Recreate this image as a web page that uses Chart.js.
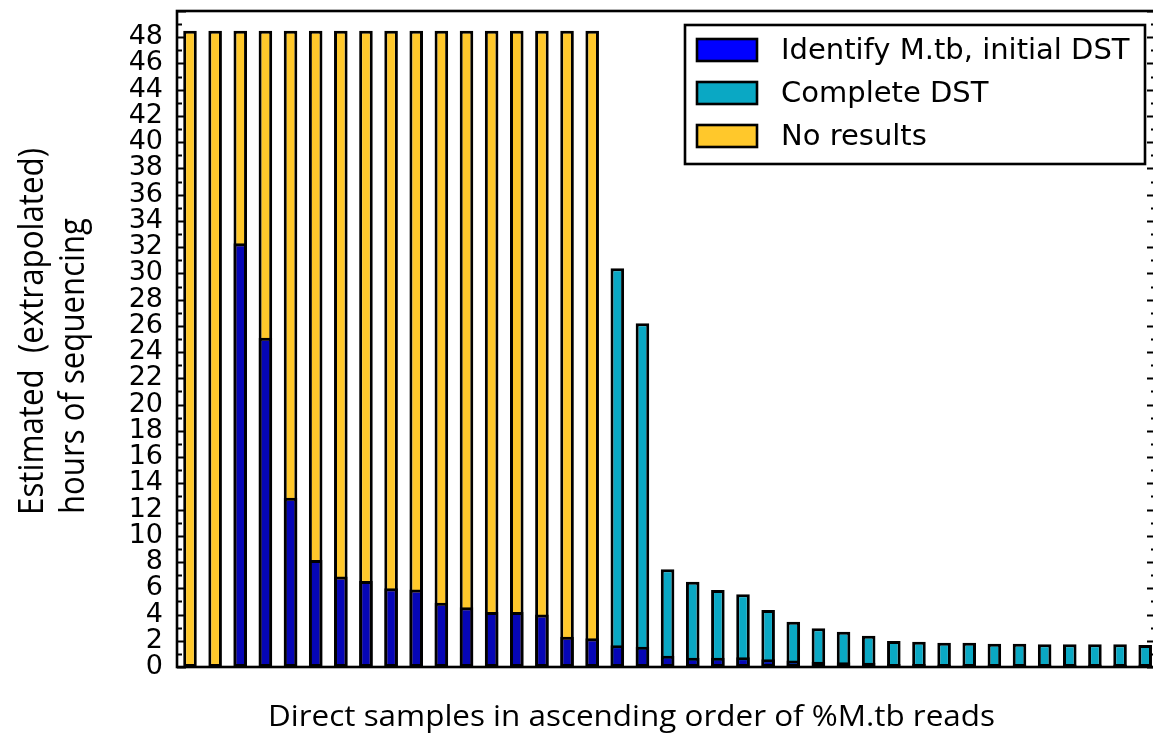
<!DOCTYPE html>
<html>
<head>
<meta charset="utf-8">
<script src="https://cdn.jsdelivr.net/npm/chart.js@4/dist/chart.umd.min.js"></script>
<style>
  html, body { margin: 0; padding: 0; background: #fff; overflow: hidden; }
  #wrap { position: relative; width: 1160px; height: 734px; }
</style>
</head>
<body>
<div id="wrap"><canvas id="c"></canvas></div>
<script>
// Samples, ordered by ascending %M.tb reads
const sampleIndex = [0, 1, 2, 3, 4, 5, 6, 7, 8, 9, 10, 11, 12, 13, 14, 15, 16, 17, 18, 19,
  20, 21, 22, 23, 24, 25, 26, 27, 28, 29, 30, 31, 32, 33, 34, 35, 36, 37, 38];

// Hours needed to identify M.tb and give an initial DST
const identifyHours = [null, null, 32.3, 25.1, 12.9, 8.15, 6.9, 6.55, 6.0, 5.9,
  4.9, 4.55, 4.2, 4.2, 4.0, 2.3, 2.2, 1.65, 1.55, 0.85,
  0.7, 0.7, 0.75, 0.6, 0.5, 0.4, 0.37, 0.33, 0.22, 0.22,
  0.2, 0.2, 0.2, 0.2, 0.2, 0.2, 0.2, 0.2, 0.2];

// Hours needed for a complete DST
const completeHours = [null, null, null, null, null, null, null, null, null, null,
  null, null, null, null, null, null, null, 30.4, 26.2, 7.45,
  6.5, 5.87, 5.54, 4.34, 3.45, 2.95, 2.69, 2.39, 1.98, 1.93,
  1.85, 1.85, 1.78, 1.78, 1.73, 1.73, 1.73, 1.73, 1.68];

// Samples without a complete result within the run (bar drawn to the run length)
const noResultHours = [48.5, 48.5, 48.5, 48.5, 48.5, 48.5, 48.5, 48.5, 48.5, 48.5,
  48.5, 48.5, 48.5, 48.5, 48.5, 48.5, 48.5, null, null, null,
  null, null, null, null, null, null, null, null, null, null,
  null, null, null, null, null, null, null, null, null];

const yTickValues = [0, 2, 4, 6, 8, 10, 12, 14, 16, 18, 20, 22, 24, 26, 28, 30, 32, 34,
  36, 38, 40, 42, 44, 46, 48];

const seriesLabels = ['Identify M.tb, initial DST', 'Complete DST', 'No results'];
const barColors = ['#0606b6', '#0aa8c4', '#ffc82b'];
const legendColors = ['#0000ff', '#0aa8c4', '#ffc82b'];

const xTitle = 'Direct samples in ascending order of %M.tb reads';
const yTitleLines = ['Estimated  (extrapolated)', 'hours of sequencing'];

const toPoints = arr => sampleIndex.map((x, i) => ({ x: x, y: arr[i] }));

// Frame, inward tick marks, legend box and axis titles
const decorations = {
  id: 'decorations',
  afterDatasetsDraw(chart) {
    const ctx = chart.ctx;
    const a = chart.chartArea;
    const ys = chart.scales.y;
    ctx.save();

    // inward ticks on left and right spines: major every 2 h, minor every 1 h
    ctx.strokeStyle = '#000';
    ctx.lineWidth = 1.8;
    for (let v = ys.min; v <= ys.max; v++) {
      const py = Math.round(ys.getPixelForValue(v)) + 0.5;
      const len = v % 2 === 0 ? 9 : 5;
      ctx.beginPath();
      ctx.moveTo(a.left, py); ctx.lineTo(a.left + len, py);
      ctx.moveTo(a.right, py); ctx.lineTo(a.right - len, py);
      ctx.stroke();
    }

    // spines
    ctx.lineWidth = 2.6;
    ctx.strokeRect(a.left, a.top, a.right - a.left, a.bottom - a.top);

    // legend
    const lw = 460, lh = 139;
    const lx = a.right - 11 - lw, ly = a.top + 14;
    ctx.fillStyle = '#fff';
    ctx.fillRect(lx, ly, lw, lh);
    ctx.lineWidth = 2.6;
    ctx.strokeRect(lx, ly, lw, lh);
    ctx.font = '29px "DejaVu Sans"';
    ctx.textBaseline = 'middle';
    ctx.textAlign = 'left';
    seriesLabels.forEach((lab, i) => {
      const cy = ly + 25 + i * 43;
      ctx.fillStyle = legendColors[i];
      ctx.fillRect(lx + 12, cy - 11, 60, 22);
      ctx.strokeStyle = '#000';
      ctx.lineWidth = 2.6;
      ctx.strokeRect(lx + 12, cy - 11, 60, 22);
      ctx.fillStyle = '#000';
      ctx.fillText(lab, lx + 96, cy + 1);
    });

    // x-axis title
    ctx.font = '29px "Open Sans"';
    ctx.textBaseline = 'alphabetic';
    ctx.fillStyle = '#000';
    const xw = ctx.measureText(xTitle).width;
    ctx.save();
    ctx.translate(268, 726);
    ctx.scale(727 / xw, 1);
    ctx.fillText(xTitle, 0, 0);
    ctx.restore();

    // y-axis title, two lines reading upwards, start-aligned
    ctx.font = '27px "Open Sans"';
    const lines = [
      { text: yTitleLines[0], base: 42.7, start: 515, len: 367 },
      { text: yTitleLines[1], base: 84, start: 514, len: 296 }
    ];
    lines.forEach(l => {
      const w = ctx.measureText(l.text).width;
      ctx.save();
      ctx.translate(l.base, l.start);
      ctx.rotate(-Math.PI / 2);
      ctx.scale(l.len / w, 1.3);
      ctx.fillText(l.text, 0, 0);
      ctx.restore();
    });

    ctx.restore();
  }
};

new Chart(document.getElementById('c'), {
  type: 'bar',
  data: {
    datasets: [
      { label: seriesLabels[0], data: toPoints(identifyHours), backgroundColor: barColors[0], order: 1 },
      { label: seriesLabels[1], data: toPoints(completeHours), backgroundColor: barColors[1], order: 2 },
      { label: seriesLabels[2], data: toPoints(noResultHours), backgroundColor: barColors[2], order: 3 }
    ]
  },
  options: {
    animation: false,
    responsive: true,
    maintainAspectRatio: false,
    devicePixelRatio: 1,
    layout: { padding: { left: 0, top: 11, right: 4, bottom: 67 } },
    datasets: {
      bar: {
        grouped: false,
        borderColor: '#000',
        borderWidth: 3,
        borderSkipped: false,
        barPercentage: 0.54,
        categoryPercentage: 1
      }
    },
    scales: {
      x: {
        type: 'linear',
        min: -0.517,
        max: 38.43,
        offset: false,
        display: false
      },
      y: {
        min: 0,
        max: 50,
        afterBuildTicks(scale) {
          scale.ticks = yTickValues.map(v => ({ value: v }));
        },
        afterFit(scale) {
          scale.width = 177;
          scale.paddingTop = 0;
          scale.paddingBottom = 0;
        },
        ticks: {
          padding: 14,
          autoSkip: false,
          color: '#000',
          font: { family: 'DejaVu Sans', size: 27, lineHeight: 1 }
        },
        grid: { display: false, drawTicks: false },
        border: { display: false }
      }
    },
    plugins: {
      legend: { display: false },
      tooltip: { enabled: false }
    }
  },
  plugins: [decorations]
});
</script>
</body>
</html>
